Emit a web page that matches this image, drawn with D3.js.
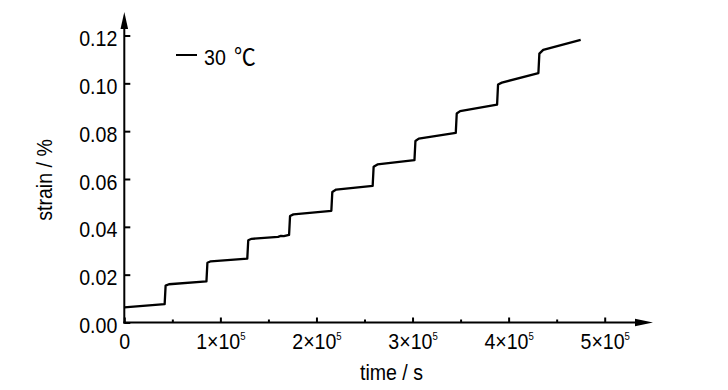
<!DOCTYPE html>
<html>
<head>
<meta charset="utf-8">
<script src="https://cdn.jsdelivr.net/npm/d3@7"></script>
<style>
  html, body { margin: 0; padding: 0; background: #fff; }
  svg { display: block; }
  text { font-family: "Liberation Sans", Arial, "Noto Sans CJK SC", sans-serif; fill: #000; }
</style>
</head>
<body>
<svg id="chart" width="728" height="390"></svg>
<script>
// ---- data ----
const timeS = [
  0, 42000,
  43000, 46500, 85500,
  86500, 90000, 128000,
  129000, 132500, 160000, 163000, 166000, 171500,
  172500, 176000, 215500,
  216500, 220500, 258500,
  259500, 263500, 302000,
  303000, 306500, 345000,
  346000, 349500, 388000,
  389000, 393000, 431000,
  432000, 436000, 475000
];
const strainPct = [
  0.0063, 0.0077,
  0.0154, 0.0160, 0.0172,
  0.0250, 0.0256, 0.0267,
  0.0344, 0.0350, 0.0358, 0.0362, 0.0361, 0.0366,
  0.0445, 0.0452, 0.0467,
  0.0546, 0.0556, 0.0571,
  0.0651, 0.0661, 0.0679,
  0.0759, 0.0769, 0.0793,
  0.0874, 0.0884, 0.0911,
  0.0995, 0.1003, 0.1043,
  0.1124, 0.1140, 0.1182
];
const xTickValues = [0, 100000, 200000, 300000, 400000, 500000];
const xTickMantissa = ["0", "1", "2", "3", "4", "5"];
const xTickExponent = "5";
const xMinorTicks = [50000, 150000, 250000, 350000, 450000];
const yTickValues = [0, 0.02, 0.04, 0.06, 0.08, 0.10, 0.12];
const yTickLabels = ["0.00", "0.02", "0.04", "0.06", "0.08", "0.10", "0.12"];
const seriesNumber = "30";
const seriesUnit = "\u2103";
const xTitle = "time / s";
const yTitle = "strain / %";

// ---- layout ----
const svg = d3.select("#chart");
const x = d3.scaleLinear().domain([0, 500000]).range([124.3, 604.7]);
const y = d3.scaleLinear().domain([0, 0.12]).range([322.5, 35.5]);
const SX = 0.87; // condensed glyphs
const FS = 22.5;

const x0 = x(0), y0 = y(0);
const xAxisEnd = 653, yAxisEnd = 12;

// data line
const pts = timeS.map((t, i) => [t, strainPct[i]]);
svg.append("path")
  .datum(pts)
  .attr("fill", "none")
  .attr("stroke", "#000")
  .attr("stroke-width", 2.3)
  .attr("stroke-linejoin", "round")
  .attr("d", d3.line().x(d => x(d[0])).y(d => y(d[1])));

// x axis (major ticks inward)
const gx = svg.append("g").attr("transform", `translate(0,${y0})`)
  .call(d3.axisBottom(x).tickValues(xTickValues).tickSizeInner(-5).tickSizeOuter(0).tickFormat(""));
gx.select(".domain").remove();
gx.selectAll(".tick line").attr("stroke", "#000").attr("stroke-width", 2);
gx.selectAll(".tick text").remove();
gx.selectAll(".tick").each(function(d, i) {
  const t = d3.select(this).append("text")
    .attr("transform", `translate(0,26) scale(${SX},1)`)
    .attr("text-anchor", "middle")
    .attr("font-size", FS);
  if (i === 0) {
    t.text(xTickMantissa[i]);
  } else {
    t.append("tspan").text(xTickMantissa[i] + "\u00d710");
    t.append("tspan").attr("font-size", 11).attr("dy", -9).text(xTickExponent);
  }
});
// minor x ticks
const gxm = svg.append("g").attr("transform", `translate(0,${y0})`)
  .call(d3.axisBottom(x).tickValues(xMinorTicks).tickSizeInner(-3).tickSizeOuter(0).tickFormat(""));
gxm.select(".domain").remove();
gxm.selectAll(".tick line").attr("stroke", "#000").attr("stroke-width", 2);

// y axis (ticks inward)
const gy = svg.append("g").attr("transform", `translate(${x0},0)`)
  .call(d3.axisLeft(y).tickValues(yTickValues).tickSizeInner(-6).tickSizeOuter(0).tickFormat(""));
gy.select(".domain").remove();
gy.selectAll(".tick line").attr("stroke", "#000").attr("stroke-width", 2);
gy.selectAll(".tick text").remove();
gy.selectAll(".tick").append("text")
  .attr("transform", `translate(-7,10) scale(${SX},1)`)
  .attr("text-anchor", "end")
  .attr("font-size", FS)
  .text((d, i) => yTickLabels[i]);

// axis lines with arrows
svg.append("line").attr("x1", x0 - 1).attr("y1", y0).attr("x2", xAxisEnd - 10).attr("y2", y0)
  .attr("stroke", "#000").attr("stroke-width", 2);
svg.append("path").attr("d", `M${xAxisEnd},${y0} L${xAxisEnd - 18},${y0 - 3.8} L${xAxisEnd - 18},${y0 + 3.8} Z`).attr("fill", "#000");
svg.append("line").attr("x1", x0).attr("y1", y0 + 1).attr("x2", x0).attr("y2", yAxisEnd + 10)
  .attr("stroke", "#000").attr("stroke-width", 2);
svg.append("path").attr("d", `M${x0},${yAxisEnd} L${x0 - 3.8},${yAxisEnd + 17} L${x0 + 3.8},${yAxisEnd + 17} Z`).attr("fill", "#000");

// axis titles
svg.append("text")
  .attr("transform", `translate(${(x(0) + x(5e5)) / 2 + 27},380) scale(${SX},1)`)
  .attr("text-anchor", "middle").attr("font-size", FS).text(xTitle);
svg.append("text")
  .attr("transform", `translate(51.5,180) rotate(-90) scale(${SX},1)`)
  .attr("text-anchor", "middle").attr("font-size", FS).text(yTitle);

// legend
svg.append("line").attr("x1", 176).attr("x2", 197).attr("y1", 55).attr("y2", 55)
  .attr("stroke", "#000").attr("stroke-width", 2);
svg.append("text")
  .attr("transform", `translate(204,65) scale(${SX},1)`)
  .attr("font-size", FS)
  .text(seriesNumber);
svg.append("text")
  .attr("transform", `translate(234,65) scale(0.95,1)`)
  .attr("font-size", 23)
  .style("font-family", "'Noto Sans CJK SC', 'Liberation Sans', sans-serif")
  .text(seriesUnit);
</script>
</body>
</html>
